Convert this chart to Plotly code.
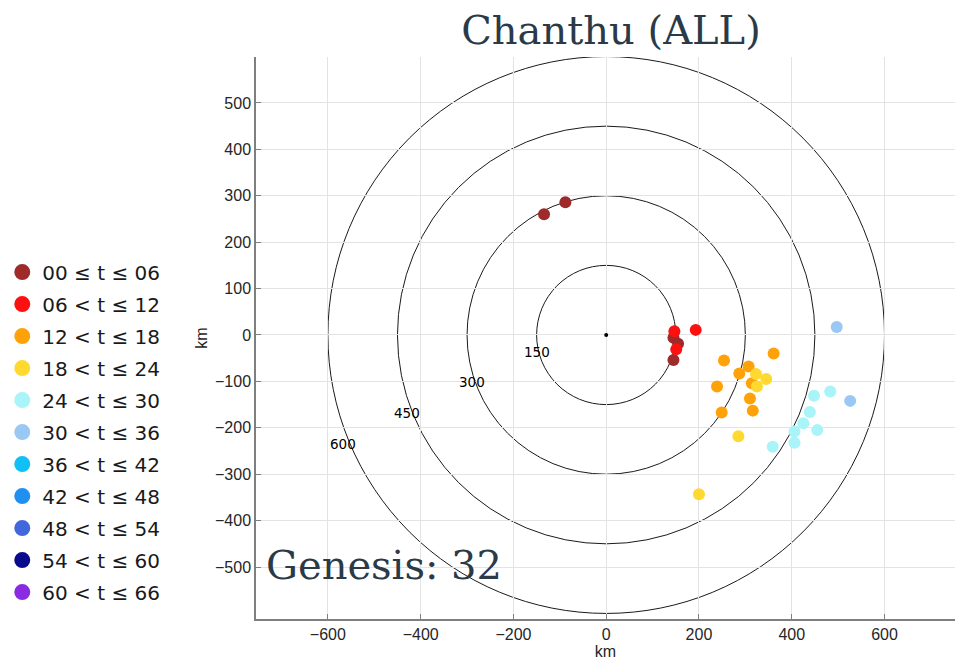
import numpy as np
import plotly.graph_objects as go

# Time bins (hours since genesis) and their colours
bin_labels = ["00 ≤ t ≤ 06", "06 < t ≤ 12", "12 < t ≤ 18", "18 < t ≤ 24",
              "24 < t ≤ 30", "30 < t ≤ 36", "36 < t ≤ 42", "42 < t ≤ 48",
              "48 < t ≤ 54", "54 < t ≤ 60", "60 < t ≤ 66"]
bin_colors = ["#9e2a2a", "#ff1010", "#ffa20a", "#ffd930",
              "#a8f4f8", "#99c8f5", "#10bff5", "#2090f0",
              "#4068dc", "#0a0a8c", "#8a2be2"]

# Positions relative to the storm centre (km), one list per time bin
x_00_06 = [-88, -134, 145, 155, 145]
y_00_06 = [286, 260, -6, -19, -54]
x_06_12 = [147, 193, 151]
y_06_12 = [8, 11, -31]
x_12_18 = [361, 254, 307, 287, 314, 239, 310, 316, 249]
y_12_18 = [-40, -55, -68, -83, -104, -111, -137, -163, -167]
x_18_24 = [323, 345, 325, 285, 200]
y_18_24 = [-84, -95, -111, -218, -343]
x_24_30 = [448, 483, 439, 425, 406, 455, 406, 359]
y_24_30 = [-131, -122, -166, -190, -208, -205, -232, -241]
x_30_36 = [497, 526]
y_30_36 = [17, -142]

bin_x = [x_00_06, x_06_12, x_12_18, x_18_24, x_24_30, x_30_36, [], [], [], [], []]
bin_y = [y_00_06, y_06_12, y_12_18, y_18_24, y_24_30, y_30_36, [], [], [], [], []]

ring_radii = [150, 300, 450, 600]
x_ticks = [-600, -400, -200, 0, 200, 400, 600]
y_ticks = [-500, -400, -300, -200, -100, 0, 100, 200, 300, 400, 500]

storm_name = "Chanthu (ALL)"
genesis_count = sum(len(v) for v in bin_x)

fig = go.Figure()

# Range rings
for r in ring_radii:
    fig.add_shape(type="circle", xref="x", yref="y", x0=-r, y0=-r, x1=r, y1=r,
                  line=dict(color="#1a1a1a", width=1), layer="below")
    fig.add_annotation(x=-0.93 * r - 10, y=-0.44 * r + 30, text=str(r),
                       showarrow=False, xref="x", yref="y",
                       font=dict(family="DejaVu Sans", size=13.5, color="black"))

# Storm centre
fig.add_trace(go.Scatter(x=[0], y=[0], mode="markers", showlegend=False,
                         marker=dict(size=4, color="black"), hoverinfo="skip"))

for i, (lab, col, xs, ys) in enumerate(zip(bin_labels, bin_colors, bin_x, bin_y)):
    grp = f"bin{i}"
    # observations in this time bin
    fig.add_trace(go.Scatter(x=xs, y=ys, mode="markers", name=lab, legendgroup=grp,
                             showlegend=False,
                             marker=dict(size=12, color=col, line=dict(width=0))))
    # legend entry (larger symbol), shown even when the bin is empty
    fig.add_trace(go.Scatter(x=[None], y=[None], mode="markers", name=lab,
                             legendgroup=grp, showlegend=True,
                             marker=dict(size=20, color=col, line=dict(width=0))))

# Plot-area geometry: left 256 px, top 57 px, bottom 619 px
fig.update_layout(
    width=955, height=662,
    margin=dict(l=256, r=0, t=57, b=43),
    paper_bgcolor="white", plot_bgcolor="white",
    title=dict(text=storm_name, x=611 / 955, xanchor="center",
               y=1 - 30 / 662, yanchor="middle",
               font=dict(family="DejaVu Serif", size=40, color="#2b3a47")),
    legend=dict(x=-0.363, xanchor="left", y=0.652, yanchor="top",
                font=dict(family="DejaVu Sans", size=20, color="#1a1a1a"),
                itemsizing="trace", tracegroupgap=3, bgcolor="rgba(0,0,0,0)"),
    showlegend=True,
)

axis_common = dict(showgrid=True, gridcolor="#e3e3e3", gridwidth=1,
                   zeroline=False, showline=True, linecolor="#7f7f7f", linewidth=1.5,
                   ticks="inside", ticklen=5, tickcolor="#7f7f7f",
                   tickfont=dict(family="Liberation Sans", size=16, color="#262626"),
                   title_font=dict(family="Liberation Sans", size=16, color="#262626"))

fig.update_xaxes(range=[-755, 752], tickvals=x_ticks, title_text="km",
                 title_standoff=3, **axis_common)
fig.update_yaxes(range=[-612, 599], tickvals=y_ticks, title_text="km",
                 title_standoff=3, **axis_common)

fig.add_annotation(text=f"Genesis: {genesis_count}", xref="paper", yref="paper",
                   x=0.012, xanchor="left", y=0.096, yanchor="middle", showarrow=False,
                   font=dict(family="DejaVu Serif", size=40, color="#2b3a47"))

fig.write_html("out.html")
